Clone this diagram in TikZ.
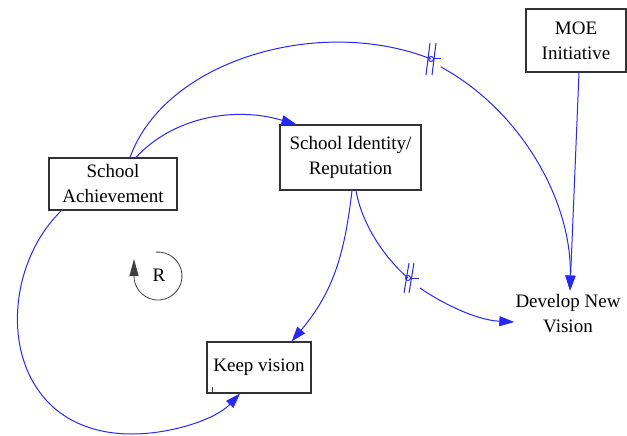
\documentclass[tikz,border=0pt]{standalone}
\usepackage{fontspec}
\setmainfont{Liberation Serif}
\usetikzlibrary{arrows.meta,calc}
\definecolor{linkblue}{RGB}{40,40,245}
\begin{document}
\begin{tikzpicture}[x=1pt,y=-1pt,
  box/.style={draw=black!80,line width=1.1pt,inner sep=0pt,align=center,font=\fontsize{19}{25}\selectfont},
  plain/.style={inner sep=0pt,align=center,font=\fontsize{19}{25}\selectfont},
  link/.style={draw=linkblue,line width=1pt,-{Triangle[length=15pt,width=10pt]}},
  linkplain/.style={draw=linkblue,line width=1pt},
  delaymark/.style={draw=linkblue,line width=1pt},
  loopline/.style={draw=black!75,line width=0.8pt,-{Triangle[length=17pt,width=9pt]}}
]
\useasboundingbox (0,0) rectangle (627,436);

% nodes
\node[box,minimum width=128pt,minimum height=52pt] (SA) at (113,184) {School\\Achievement};
\node[box,minimum width=141pt,minimum height=65pt] (SI) at (350.5,157.5) {School Identity/\\Reputation};
\node[box,minimum width=100pt,minimum height=63pt] (MOE) at (576,40.5) {MOE\\Initiative};
\node[box,minimum width=104pt,minimum height=51pt] (KV) at (259,367.5) {Keep vision};
\node[plain] (DNV) at (568,314) {Develop New\\Vision};
\node[plain] (R) at (159,275) {R};

% delay points
\coordinate (h1) at (431,59);
\coordinate (h2) at (408,278);

% School Achievement -> School Identity
\draw[link] ($(SA.north)+(23,0)$) .. controls (170,120) and (230,105) .. ($(SI.north west)+(17,0)$);

% School Achievement -> Develop New Vision (delayed)
\draw[linkplain] ($(SA.north)+(17,0)$) .. controls (165,60) and (320,15) .. (h1);
\draw[delaymark] (h1) circle[radius=2.5pt];
\draw[delaymark] ($(h1)+(2.5,0)$) -- ++(7,0);
\draw[delaymark] ($(h1)+(-1,-16)$) -- ($(h1)+(-5,16)$);
\draw[delaymark] ($(h1)+(5,-16)$) -- ($(h1)+(1,16)$);
\draw[link] ($(h1)+(10,8)$) .. controls (520,110) and (572,200) .. ($(DNV.north)+(2,-4)$);

% MOE -> Develop New Vision
\draw[link] ($(MOE.south)+(3,0)$) -- ($(DNV.north)+(2,-4)$);

% School Identity -> Keep vision
\draw[link] ($(SI.south)+(1.5,0)$) .. controls (345,250) and (335,290) .. ($(KV.north east)+(-20,0)$);

% School Identity -> Develop New Vision (delayed)
\draw[linkplain] ($(SI.south)+(5.5,0)$) .. controls (362,225) and (385,258) .. (h2);
\draw[delaymark] (h2) circle[radius=2.5pt];
\draw[delaymark] ($(h2)+(2.5,0)$) -- ++(8,0);
\draw[delaymark] ($(h2)+(1,-15)$) -- ($(h2)+(-4,15)$);
\draw[delaymark] ($(h2)+(6,-15)$) -- ($(h2)+(1,15)$);
\draw[link] ($(h2)+(12,10)$) .. controls (440,302) and (475,320) .. ($(DNV.west)+(-1,8)$);

% School Achievement -> Keep vision
\draw[link] ($(SA.south west)+(13,0)$) .. controls (-10,280) and (0,434) .. (132,434)
   .. controls (170,434) and (215,420) .. ($(KV.south)+(-19,0)$);

% loop marker
\draw[loopline] ($(R.center)+(-1,1)$) ++(-95:24) arc[start angle=-95,end angle=180,radius=24] -- ++(0,-17);

% small tick inside Keep vision
\draw[black!80,line width=0.8pt] ($(KV.south west)+(6,-1)$) -- ++(0,-6);
\end{tikzpicture}
\end{document}
